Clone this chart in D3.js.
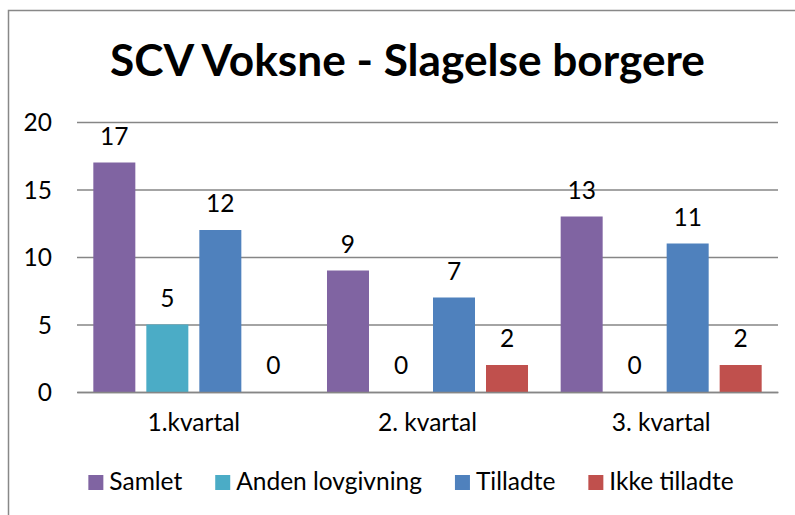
<!DOCTYPE html>
<html><head><meta charset="utf-8">
<script src="https://cdn.jsdelivr.net/npm/d3@7"></script>
<style>
body{margin:0;background:#fff;}
svg{display:block;font-family:Lato,"Open Sans",sans-serif;}
</style></head>
<body>
<svg id="c" width="795" height="515"></svg>
<script>
const title = "SCV Voksne - Slagelse borgere";
const categories = ["1.kvartal", "2. kvartal", "3. kvartal"];
const seriesNames = ["Samlet", "Anden lovgivning", "Tilladte", "Ikke tilladte"];
const samlet = [17, 9, 13];
const andenLovgivning = [5, 0, 0];
const tilladte = [12, 7, 11];
const ikkeTilladte = [0, 2, 2];
const yTicks = [0, 5, 10, 15, 20];
const colors = ["#8064A2", "#4BACC6", "#4F81BD", "#C0504D"];

const seriesValues = [samlet, andenLovgivning, tilladte, ikkeTilladte];
const svg = d3.select("#c");
const W = 795, H = 515;
const FS = 24.5;
const m = {left: 77, right: 17, top: 122, bottom: 123};
const pw = W - m.left - m.right, ph = H - m.top - m.bottom;

// frame
svg.append("rect").attr("x", 8.5).attr("y", 10.5).attr("width", 820).attr("height", 540)
  .attr("fill", "none").attr("stroke", "#888").attr("stroke-width", 1.5);

const y = d3.scaleLinear().domain([0, 20]).range([m.top + ph, m.top]);
const x0 = d3.scaleBand().domain(categories).range([m.left, m.left + pw]).paddingInner(0).paddingOuter(0);
const x1 = d3.scaleBand().domain(seriesNames).range([0, x0.bandwidth()]).paddingInner(0.2075).paddingOuter(0.308);

// gridlines
const grid = d3.axisLeft(y).tickValues(yTicks).tickSize(-pw).tickFormat("");
svg.append("g").attr("transform", `translate(${m.left},0)`).call(grid)
  .call(g => g.select(".domain").remove())
  .call(g => g.selectAll("line").attr("stroke", "#868686").attr("stroke-width", 1.5));

// y labels
const yAx = d3.axisLeft(y).tickValues(yTicks).tickSize(0).tickPadding(25);
svg.append("g").attr("transform", `translate(${m.left},0)`).call(yAx)
  .call(g => g.select(".domain").remove())
  .call(g => g.selectAll("text").attr("font-size", FS).attr("font-family", "Lato").attr("fill", "#000").attr("dy", "0.36em"));

// bars
const groups = svg.append("g").selectAll("g").data(categories).join("g")
  .attr("transform", d => `translate(${x0(d)},0)`);
groups.selectAll("rect").data((c, i) => seriesNames.map((s, j) => ({s, j, v: seriesValues[j][i]})))
  .join("rect")
  .attr("x", d => x1(d.s)).attr("width", x1.bandwidth())
  .attr("y", d => y(d.v)).attr("height", d => y(0) - y(d.v))
  .attr("fill", d => colors[d.j]);
groups.selectAll("text").data((c, i) => seriesNames.map((s, j) => ({s, j, v: seriesValues[j][i]})))
  .join("text")
  .attr("x", d => x1(d.s) + x1.bandwidth() / 2)
  .attr("y", d => y(d.v) - 18)
  .attr("text-anchor", "middle").attr("font-size", FS).attr("fill", "#000")
  .text(d => d.v);

// x axis
const xAx = d3.axisBottom(x0).tickSize(0).tickPadding(22);
svg.append("g").attr("transform", `translate(0,${y(0)})`).call(xAx)
  .call(g => g.select(".domain").attr("stroke", "#868686").attr("stroke-width", 1.5))
  .call(g => g.selectAll("text").attr("font-size", FS).attr("font-family", "Lato").attr("fill", "#000"));

// title
const t = svg.append("text").attr("x", 407.5).attr("y", 76).attr("text-anchor", "middle")
  .attr("font-weight", "bold").attr("font-size", 42).text(title);
const tw = t.node().getComputedTextLength();
t.attr("font-size", 42 * 595 / tw);

// legend
const leg = svg.append("g");
let cx = 0;
seriesNames.forEach((s, j) => {
  const g = leg.append("g").attr("transform", `translate(${cx},0)`);
  g.append("rect").attr("x", 0).attr("y", -15).attr("width", 15).attr("height", 15).attr("fill", colors[j]);
  const tx = g.append("text").attr("x", 21).attr("y", 0).attr("font-size", FS).text(s);
  cx += 21 + tx.node().getComputedTextLength() + 33;
});
const lw = cx - 33;
leg.attr("transform", `translate(${411 - lw / 2},490)`);
</script>
</body></html>
